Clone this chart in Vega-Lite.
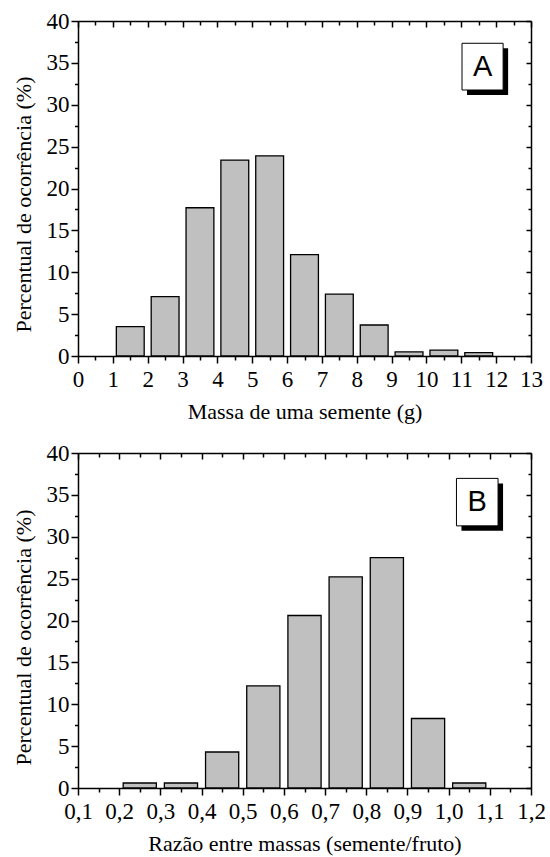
{
  "$schema": "https://vega.github.io/schema/vega-lite/v6.json",
  "padding": {"left": 12, "top": 10, "right": 10, "bottom": 5},
  "background": "white",
  "config": {
    "view": {"stroke": null},
    "font": "Liberation Serif",
    "axis": {
      "grid": false,
      "domainColor": "black",
      "domainWidth": 1.5,
      "tickColor": "black",
      "tickWidth": 1.5,
      "labelFont": "Liberation Serif",
      "labelFontSize": 23,
      "labelColor": "black",
      "titleFont": "Liberation Serif",
      "titleFontSize": 22,
      "titleFontWeight": "normal",
      "titleColor": "black",
      "labelOverlap": false,
      "labelFlush": false
    }
  },
  "spacing": 97,
  "bounds": "flush",
  "vconcat": [
    {
      "width": 453,
      "height": 335,
      "layer": [
        {
          "data": {"values": [
            {"bin_start": 1, "bin_end": 2, "pct": 3.5},
            {"bin_start": 2, "bin_end": 3, "pct": 7.1},
            {"bin_start": 3, "bin_end": 4, "pct": 17.7},
            {"bin_start": 4, "bin_end": 5, "pct": 23.4},
            {"bin_start": 5, "bin_end": 6, "pct": 23.9},
            {"bin_start": 6, "bin_end": 7, "pct": 12.1},
            {"bin_start": 7, "bin_end": 8, "pct": 7.4},
            {"bin_start": 8, "bin_end": 9, "pct": 3.7},
            {"bin_start": 9, "bin_end": 10, "pct": 0.5},
            {"bin_start": 10, "bin_end": 11, "pct": 0.7},
            {"bin_start": 11, "bin_end": 12, "pct": 0.4}
          ]},
          "mark": {"type": "bar", "fill": "#c0c0c0", "stroke": "black", "strokeWidth": 1.3, "xOffset": 3.5, "x2Offset": -3.5},
          "encoding": {
            "x": {"field": "bin_start", "type": "quantitative",
              "scale": {"domain": [0, 13], "nice": false, "zero": false},
              "axis": {"orient": "bottom", "title": "Massa de uma semente (g)",
                "values": [0,0.5,1,1.5,2,2.5,3,3.5,4,4.5,5,5.5,6,6.5,7,7.5,8,8.5,9,9.5,10,10.5,11,11.5,12,12.5,13],
                "format": ".0f",
                "labelExpr": "datum.value % 1 === 0 ? datum.label : ''",
                "tickSize": {"condition": {"test": "datum.value % 1 === 0", "value": 7}, "value": 4},
                "labelPadding": 5, "titlePadding": 10}},
            "x2": {"field": "bin_end"},
            "y": {"field": "pct", "type": "quantitative",
              "scale": {"domain": [0, 40], "nice": false},
              "axis": {"orient": "left", "title": "Percentual de ocorrência (%)",
                "values": [0,2.5,5,7.5,10,12.5,15,17.5,20,22.5,25,27.5,30,32.5,35,37.5,40],
                "format": ".0f",
                "labelExpr": "datum.value % 5 === 0 ? datum.label : ''",
                "tickSize": {"condition": {"test": "datum.value % 5 === 0", "value": 7}, "value": 3.5},
                "labelPadding": 2, "titlePadding": 11, "titleY": 183}},
            "y2": {"datum": 0}
          }
        },
        {
          "data": {"values": [{"label": "A", "x0": 11.02, "x1": 12.2, "y0": 31.76, "y1": 37.34, "xm": 11.61, "ym": 34.55}]},
          "mark": {"type": "rect", "fill": "black", "xOffset": 5, "x2Offset": 5, "yOffset": 5, "y2Offset": 5},
          "encoding": {
            "x": {"field": "x0", "type": "quantitative",
              "scale": {"domain": [0, 13], "nice": false, "zero": false},
              "axis": {"orient": "top", "title": null, "labels": false,
                "values": [0,0.5,1,1.5,2,2.5,3,3.5,4,4.5,5,5.5,6,6.5,7,7.5,8,8.5,9,9.5,10,10.5,11,11.5,12,12.5,13],
                "tickSize": {"condition": {"test": "datum.value % 1 === 0", "value": -6}, "value": -4}}},
            "x2": {"field": "x1"},
            "y": {"field": "y0", "type": "quantitative",
              "scale": {"domain": [0, 40], "nice": false},
              "axis": {"orient": "right", "title": null, "labels": false,
                "values": [0,2.5,5,7.5,10,12.5,15,17.5,20,22.5,25,27.5,30,32.5,35,37.5,40],
                "tickSize": {"condition": {"test": "datum.value % 5 === 0", "value": -5}, "value": -3}}},
            "y2": {"field": "y1"}
          }
        },
        {
          "data": {"values": [{"label": "A", "x0": 11.02, "x1": 12.2, "y0": 31.76, "y1": 37.34, "xm": 11.61, "ym": 34.55}]},
          "mark": {"type": "rect", "fill": "white", "stroke": "black", "strokeWidth": 1},
          "encoding": {
            "x": {"field": "x0", "type": "quantitative", "axis": null},
            "x2": {"field": "x1"},
            "y": {"field": "y0", "type": "quantitative", "axis": null},
            "y2": {"field": "y1"}
          }
        },
        {
          "data": {"values": [{"label": "A", "x0": 11.02, "x1": 12.2, "y0": 31.76, "y1": 37.34, "xm": 11.61, "ym": 34.55}]},
          "mark": {"type": "text", "font": "Liberation Sans", "fontSize": 29, "align": "center", "baseline": "middle", "color": "black"},
          "encoding": {
            "x": {"field": "xm", "type": "quantitative", "axis": null},
            "y": {"field": "ym", "type": "quantitative", "axis": null},
            "text": {"field": "label"}
          }
        }
      ],
      "resolve": {"axis": {"x": "independent", "y": "independent"}}
    },
    {
      "width": 453,
      "height": 335,
      "layer": [
        {
          "data": {"values": [
            {"bin_start": 0.2, "bin_end": 0.3, "pct": 0.6},
            {"bin_start": 0.3, "bin_end": 0.4, "pct": 0.6},
            {"bin_start": 0.4, "bin_end": 0.5, "pct": 4.3},
            {"bin_start": 0.5, "bin_end": 0.6, "pct": 12.2},
            {"bin_start": 0.6, "bin_end": 0.7, "pct": 20.6},
            {"bin_start": 0.7, "bin_end": 0.8, "pct": 25.2},
            {"bin_start": 0.8, "bin_end": 0.9, "pct": 27.5},
            {"bin_start": 0.9, "bin_end": 1.0, "pct": 8.3},
            {"bin_start": 1.0, "bin_end": 1.1, "pct": 0.6}
          ]},
          "mark": {"type": "bar", "fill": "#c0c0c0", "stroke": "black", "strokeWidth": 1.3, "xOffset": 4, "x2Offset": -4},
          "encoding": {
            "x": {"field": "bin_start", "type": "quantitative",
              "scale": {"domain": [0.1, 1.2], "nice": false, "zero": false},
              "axis": {"orient": "bottom", "title": "Razão entre massas (semente/fruto)",
                "values": [0.1,0.15,0.2,0.25,0.3,0.35,0.4,0.45,0.5,0.55,0.6,0.65,0.7,0.75,0.8,0.85,0.9,0.95,1.0,1.05,1.1,1.15,1.2],
                "format": ".1f",
                "labelExpr": "abs(datum.value*10 - round(datum.value*10)) < 0.001 ? replace(datum.label, '.', ',') : ''",
                "tickSize": {"condition": {"test": "abs(datum.value*10 - round(datum.value*10)) < 0.001", "value": 7}, "value": 4},
                "labelPadding": 5, "titlePadding": 10}},
            "x2": {"field": "bin_end"},
            "y": {"field": "pct", "type": "quantitative",
              "scale": {"domain": [0, 40], "nice": false},
              "axis": {"orient": "left", "title": "Percentual de ocorrência (%)",
                "values": [0,2.5,5,7.5,10,12.5,15,17.5,20,22.5,25,27.5,30,32.5,35,37.5,40],
                "format": ".0f",
                "labelExpr": "datum.value % 5 === 0 ? datum.label : ''",
                "tickSize": {"condition": {"test": "datum.value % 5 === 0", "value": 7}, "value": 3.5},
                "labelPadding": 2, "titlePadding": 11, "titleY": 184}},
            "y2": {"datum": 0}
          }
        },
        {
          "data": {"values": [{"label": "B", "x0": 1.019, "x1": 1.12, "y0": 31.3, "y1": 36.97, "xm": 1.0695, "ym": 34.13}]},
          "mark": {"type": "rect", "fill": "black", "xOffset": 5, "x2Offset": 5, "yOffset": 5, "y2Offset": 5},
          "encoding": {
            "x": {"field": "x0", "type": "quantitative",
              "scale": {"domain": [0.1, 1.2], "nice": false, "zero": false},
              "axis": {"orient": "top", "title": null, "labels": false,
                "values": [0.1,0.15,0.2,0.25,0.3,0.35,0.4,0.45,0.5,0.55,0.6,0.65,0.7,0.75,0.8,0.85,0.9,0.95,1.0,1.05,1.1,1.15,1.2],
                "tickSize": {"condition": {"test": "abs(datum.value*10 - round(datum.value*10)) < 0.001", "value": -6}, "value": -4}}},
            "x2": {"field": "x1"},
            "y": {"field": "y0", "type": "quantitative",
              "scale": {"domain": [0, 40], "nice": false},
              "axis": {"orient": "right", "title": null, "labels": false,
                "values": [0,2.5,5,7.5,10,12.5,15,17.5,20,22.5,25,27.5,30,32.5,35,37.5,40],
                "tickSize": {"condition": {"test": "datum.value % 5 === 0", "value": -5}, "value": -3}}},
            "y2": {"field": "y1"}
          }
        },
        {
          "data": {"values": [{"label": "B", "x0": 1.019, "x1": 1.12, "y0": 31.3, "y1": 36.97, "xm": 1.0695, "ym": 34.13}]},
          "mark": {"type": "rect", "fill": "white", "stroke": "black", "strokeWidth": 1},
          "encoding": {
            "x": {"field": "x0", "type": "quantitative", "axis": null},
            "x2": {"field": "x1"},
            "y": {"field": "y0", "type": "quantitative", "axis": null},
            "y2": {"field": "y1"}
          }
        },
        {
          "data": {"values": [{"label": "B", "x0": 1.019, "x1": 1.12, "y0": 31.3, "y1": 36.97, "xm": 1.0695, "ym": 34.13}]},
          "mark": {"type": "text", "font": "Liberation Sans", "fontSize": 29, "align": "center", "baseline": "middle", "color": "black"},
          "encoding": {
            "x": {"field": "xm", "type": "quantitative", "axis": null},
            "y": {"field": "ym", "type": "quantitative", "axis": null},
            "text": {"field": "label"}
          }
        }
      ],
      "resolve": {"axis": {"x": "independent", "y": "independent"}}
    }
  ]
}
